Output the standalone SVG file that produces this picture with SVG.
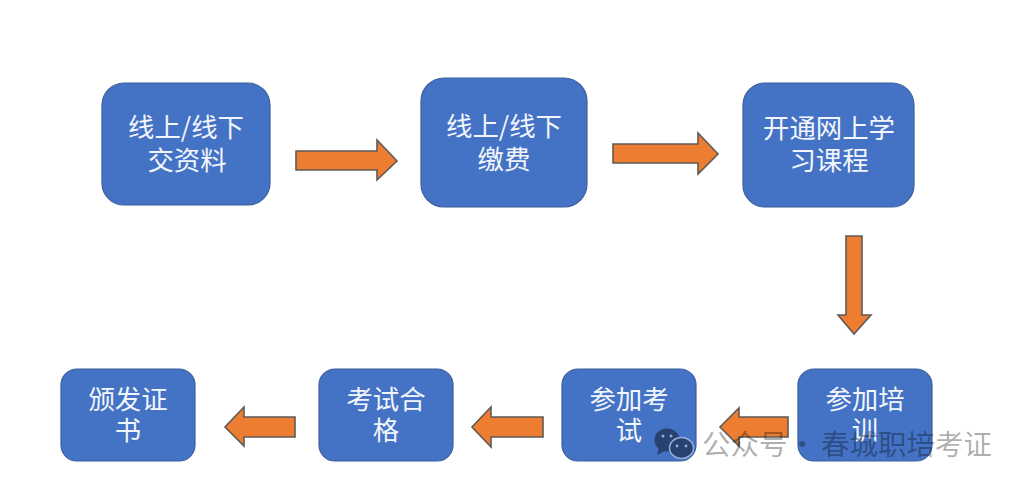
<svg xmlns="http://www.w3.org/2000/svg" width="1025" height="486" viewBox="0 0 1025 486">
<style>
.n{fill:#4472c4;stroke:#3d5f9e;stroke-width:1.2}
.t{font-family:"Microsoft YaHei","Noto Sans CJK SC",sans-serif;font-size:26.4px;fill:#f2f6fc;text-anchor:middle}
.a{fill:#ed7d31;stroke:#5f5a55;stroke-width:1.6}
.w{font-family:"Noto Sans CJK SC",sans-serif;font-size:28.5px;fill:#000;fill-opacity:.33}
</style>
<rect width="1025" height="486" fill="#fff"/>
<g id="connectors">
<path class="a" d="M296 151H377V140L397 161L377 180V170H296Z"/>
<path class="a" d="M613 144H698V133L718 154L698 174V163H613Z"/>
<path class="a" d="M846 236H862V315H871L854 334L838 315H846Z"/>
<path class="a" d="M788 417H739V408L720 427L739 446V437H788Z"/>
<path class="a" d="M543 417H491V407L472 427L491 447V437H543Z"/>
<path class="a" d="M295 417H244V407L225 427L244 446V437H295Z"/>
</g>
<g id="n1"><rect class="n" x="102" y="83" width="168" height="122" rx="22"/><text class="t" x="186" y="137">线上/线下</text><text class="t" x="187" y="170">交资料</text></g>
<g id="n2"><rect class="n" x="421" y="78" width="166" height="129" rx="23"/><text class="t" x="504" y="136">线上/线下</text><text class="t" x="504" y="169">缴费</text></g>
<g id="n3"><rect class="n" x="743" y="83" width="171" height="124" rx="22"/><text class="t" x="829" y="138">开通网上学</text><text class="t" x="829" y="170">习课程</text></g>
<g id="n4"><rect class="n" x="798" y="369" width="134" height="92" rx="16"/><text class="t" x="865" y="409">参加培</text><text class="t" x="865" y="440">训</text></g>
<g id="n5"><rect class="n" x="562" y="369" width="134" height="92" rx="16"/><text class="t" x="629" y="409">参加考</text><text class="t" x="629" y="440">试</text></g>
<g id="n6"><rect class="n" x="319" y="369" width="134" height="92" rx="16"/><text class="t" x="386" y="409">考试合</text><text class="t" x="386" y="440">格</text></g>
<g id="n7"><rect class="n" x="61" y="369" width="134" height="92" rx="16"/><text class="t" x="128" y="409">颁发证</text><text class="t" x="128" y="440">书</text></g>
<g id="watermark">
<g opacity=".42">
<ellipse cx="667" cy="440" rx="12.5" ry="11.5" fill="#000"/>
<path d="M659 448L657 455L665 451Z" fill="#000"/>
<ellipse cx="681.5" cy="448" rx="12" ry="10.5" fill="#000" stroke="#fff" stroke-width="1.5"/>
<circle cx="663" cy="436" r="1.5" fill="#fff"/><circle cx="671" cy="436" r="1.5" fill="#fff"/>
<circle cx="677" cy="446" r="1.4" fill="#fff"/><circle cx="686" cy="446" r="1.4" fill="#fff"/>
</g>
<text class="w" x="702" y="455">公众号</text>
<text class="w" x="788" y="455">·</text>
<text class="w" x="821" y="455">春城职培考证</text>
</g>
</svg>
